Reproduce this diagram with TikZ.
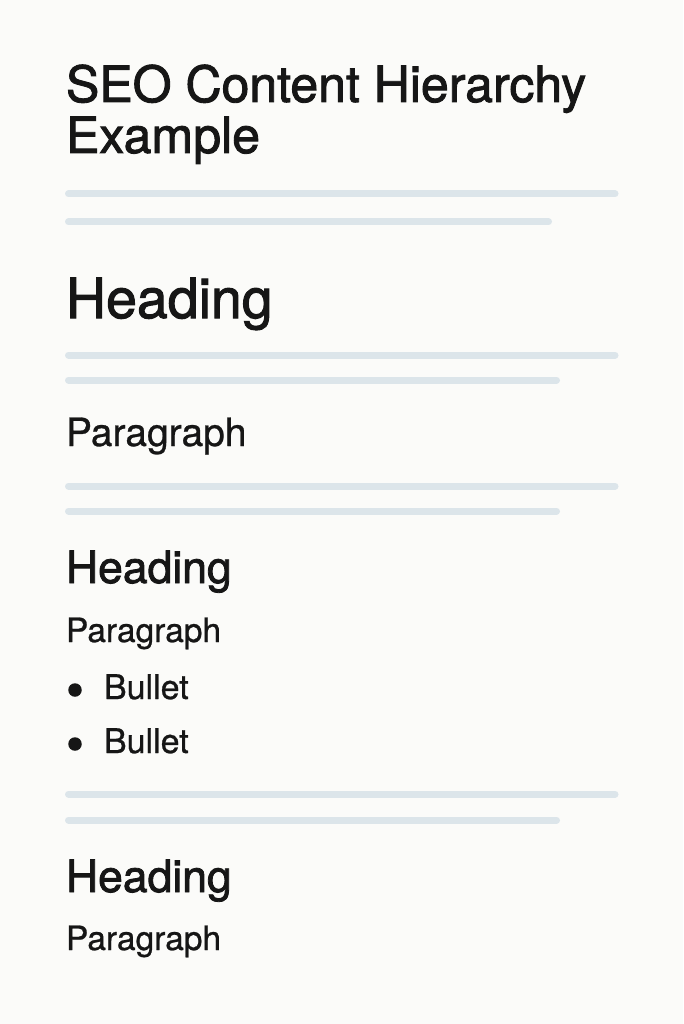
\documentclass[tikz,border=0pt]{standalone}
\usepackage{fontspec}
\setmainfont{TeX Gyre Heros}
\newfontfamily\headfont{TeX Gyre Heros}[FakeBold=1.8]
\newfontfamily\bodyfont{TeX Gyre Heros}[FakeBold=0.7]
\usepackage{tikz}
\definecolor{ink}{HTML}{161616}
\definecolor{barcol}{HTML}{DCE5EA}
\definecolor{paper}{HTML}{FBFBF9}
\tikzset{basic/.style={anchor=base west,inner sep=0pt,outer sep=0pt,text=ink}}
\tikzset{titletext/.style={basic,font=\headfont\fontsize{50}{55}\selectfont}}
\tikzset{bighead/.style={basic,font=\headfont\fontsize{55.5}{60}\selectfont}}
\tikzset{subhead/.style={basic,font=\headfont\fontsize{44.5}{50}\selectfont}}

\begin{document}
\begin{tikzpicture}[x=1pt,y=-1pt]
	\tikzstyle{bar}=[line width=7pt,line cap=round,draw=barcol]
	\tikzstyle{para}=[basic,font=\bodyfont\fontsize{#1}{#1}\selectfont]
	\tikzstyle{dot}=[circle,fill=ink,inner sep=0pt,minimum size=13.5pt]
    % page background, fixes the size of the picture
	\fill[paper] (0,0) rectangle (683,1024);

    % Title
	\node (title1) [titletext] at (66,102) {SEO Content Hierarchy};
	\node (title2) [titletext] at (66,153) {Example};
	\draw[bar] (68.5,194) -- (615,194);
	\draw[bar] (68.5,222) -- (548.5,222);

    % First section
	\node (head1) [bighead] at (66,318) {Heading};
	\draw[bar] (68.5,355) -- (615,355);
	\draw[bar] (68.5,380) -- (556.5,380);
	\node (para1) [para=39] at (66,446) {Paragraph};
	\draw[bar] (68.5,486) -- (615,486);
	\draw[bar] (68.5,511) -- (556.5,511);

    % Second section with the bullet list
	\node (head2) [subhead] at (66,583) {Heading};
	\node (para2) [para=33.5] at (66,642) {Paragraph};
	\node (dot1) [dot] at (75,690) {};
	\node (bull1) [para=34] at (104,699) {Bullet};
	\node (dot2) [dot] at (75,744) {};
	\node (bull2) [para=34] at (104,753) {Bullet};
	\draw[bar] (68.5,794) -- (615,794);
	\draw[bar] (68.5,820) -- (556.5,820);

    % Third section
	\node (head3) [subhead] at (66,892) {Heading};
	\node (para3) [para=33.5] at (66,950) {Paragraph};
\end{tikzpicture}
\end{document}
